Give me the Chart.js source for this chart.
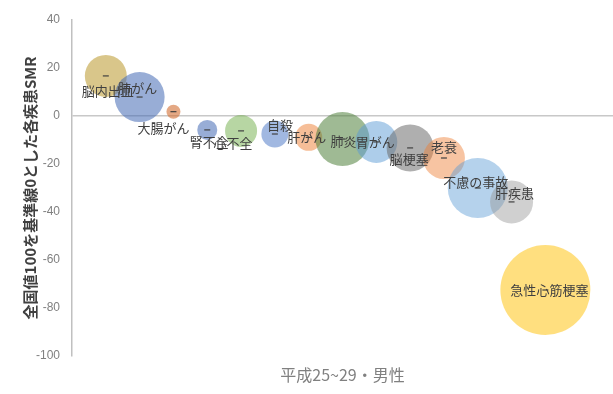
<!DOCTYPE html>
<html>
<head>
<meta charset="utf-8">
<script src="https://cdn.jsdelivr.net/npm/chart.js@4/dist/chart.umd.min.js"></script>
<style>
html,body{margin:0;padding:0;background:#fff;}
#wrap{width:613px;height:394px;position:relative;}
</style>
</head>
<body>
<div id="wrap"><canvas id="c"></canvas></div>
<script>
// ---- data ----
const diseases = ["脳内出血","肺がん","大腸がん","腎不全","心不全","自殺","肝がん","肺炎","胃がん","脳梗塞","老衰","不慮の事故","肝疾患","急性心筋梗塞"];
const positions = [1,2,3,4,5,6,7,8,9,10,11,12,13,14];
const smrDiff = [16.7, 7.9, 1.8, -5.8, -6.2, -7.5, -8.9, -9.6, -10.8, -13.3, -17.5, -30.0, -35.8, -72.5];
const bubbleSize = [21, 25, 7, 10, 16, 13.5, 13.5, 27, 21, 23.5, 21, 30, 21.5, 45];
const yTicks = [40, 20, 0, -20, -40, -60, -80, -100];

// ---- styles ----
const colors = [
  "rgba(191,160,60,0.6)", "rgba(68,105,180,0.55)", "rgba(210,110,50,0.6)", "rgba(68,105,180,0.55)",
  "rgba(112,173,71,0.5)", "rgba(68,114,196,0.5)", "rgba(237,125,49,0.5)", "rgba(80,130,60,0.55)",
  "rgba(91,155,213,0.5)", "rgba(110,110,110,0.55)", "rgba(237,125,49,0.45)", "rgba(91,155,213,0.45)",
  "rgba(150,150,150,0.45)", "rgba(255,192,0,0.5)"
];
const labelDx = [2, -2, -10, 2, -8, 5, -2, 1, -1, -1, 0, -2, 3, 4];
const labelDy = [15, -9, 16, 12, 12, -9, 0, 2, 0, 11, -11, -6, -9, 0];

const points = positions.map((x, i) => ({x: x, y: smrDiff[i], r: bubbleSize[i]}));

const labelPlugin = {
  id: 'bubbleLabels',
  afterDatasetsDraw(chart) {
    const ctx = chart.ctx;
    const meta = chart.getDatasetMeta(0);
    ctx.save();
    ctx.strokeStyle = '#404040';
    ctx.lineWidth = 1.2;
    meta.data.forEach((el) => {
      ctx.beginPath();
      ctx.moveTo(el.x - 3, el.y);
      ctx.lineTo(el.x + 3, el.y);
      ctx.stroke();
    });
    ctx.fillStyle = '#404040';
    ctx.font = '13px "Noto Sans CJK JP"';
    ctx.textAlign = 'center';
    ctx.textBaseline = 'middle';
    meta.data.forEach((el, i) => {
      ctx.fillText(diseases[i], el.x + labelDx[i], el.y + labelDy[i]);
    });
    ctx.restore();
  }
};

new Chart(document.getElementById('c'), {
  type: 'bubble',
  data: {
    datasets: [{
      data: points,
      backgroundColor: colors,
      borderWidth: 0,
      hoverBorderWidth: 0
    }]
  },
  options: {
    responsive: true,
    maintainAspectRatio: false,
    animation: false,
    events: [],
    layout: {autoPadding: false, padding: {top: 20, right: 0, bottom: 0, left: 0}},
    plugins: {legend: {display: false}, tooltip: {enabled: false}},
    scales: {
      x: {
        type: 'linear',
        min: 0,
        max: 16,
        grid: {display: false, drawTicks: false},
        border: {display: false},
        ticks: {display: false},
        title: {
          display: true,
          text: '平成25~29・男性',
          color: '#808080',
          font: {family: '"Noto Sans CJK JP"', size: 16},
          padding: {top: 0, bottom: 9}
        },
        afterFit(scale) { scale.height = 38; }
      },
      y: {
        min: -100,
        max: 40,
        afterBuildTicks(scale) { scale.ticks = yTicks.map(v => ({value: v})); },
        grid: {
          drawTicks: false,
          color: (c) => (c.tick && c.tick.value === 0) ? '#c8c8c8' : 'rgba(0,0,0,0)',
          lineWidth: 1.5
        },
        border: {display: true, color: '#c0c0c0', width: 1.5},
        ticks: {
          color: '#808080',
          padding: 12,
          font: {family: '"Liberation Sans", Arial, sans-serif', size: 12}
        },
        title: {
          display: true,
          text: '全国値100を基準線0とした各疾患SMR',
          color: '#404040',
          font: {family: '"Noto Sans CJK JP"', size: 15, weight: 'bold'},
          padding: {top: 21, bottom: 0}
        },
        afterFit(scale) { scale.width = 72; }
      }
    }
  },
  plugins: [labelPlugin]
});
</script>
</body>
</html>
